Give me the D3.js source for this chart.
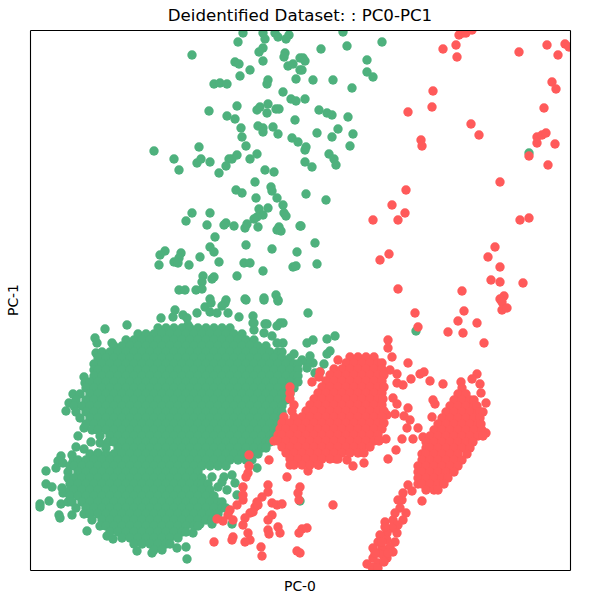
<!DOCTYPE html>
<html>
<head>
<meta charset="utf-8">
<script src="https://cdn.jsdelivr.net/npm/d3@7"></script>
<style>
  html, body { margin: 0; padding: 0; background: #fff; }
  text { font-family: "DejaVu Sans", sans-serif; fill: #000; }
</style>
</head>
<body>
<div id="chart"></div>
<script>
const chartTitle = 'Deidentified Dataset: : PC0-PC1';
const xLabel = 'PC-0';
const yLabel = 'PC-1';
const colors = { green: '#4eb17d', red: '#ff5a5a' };

// Values, PC-1 counted from the top of the frame
const greenSparse = [[213,3],[208,12],[233,3],[235,9],[245,3],[248,7],[259,5],[256,9],[162,25],[233,18],[229,22],[255,23],[254,27],[233,31],[205,32],[209,34],[220,40],[258,36],[263,34],[270,28],[270,40],[210,46],[238,50],[237,54],[266,49],[184,54],[190,53],[197,54],[253,62],[261,69],[266,71],[207,76],[179,81],[227,80],[230,77],[238,74],[246,79],[249,79],[237,83],[197,86],[205,89],[265,90],[211,98],[228,96],[233,98],[233,102],[243,97],[248,104],[262,108],[268,112],[212,107],[216,116],[169,117],[124,121],[144,129],[149,140],[167,133],[171,129],[180,132],[199,129],[202,129],[207,125],[220,129],[227,124],[196,136],[189,143],[235,140],[244,142],[225,152],[206,160],[212,163],[241,157],[242,161],[226,168],[247,168],[253,175],[229,179],[238,178],[233,185],[227,187],[224,189],[254,183],[256,186],[162,183],[180,183],[156,191],[177,195],[194,195],[196,193],[204,196],[217,194],[215,198],[228,197],[249,197],[247,200],[251,201],[270,196],[185,207],[216,215],[180,217],[184,222],[242,219],[267,222],[135,221],[130,225],[151,223],[149,228],[144,232],[148,233],[129,235],[159,235],[170,227],[189,232],[214,233],[220,233],[233,241],[263,237],[266,236],[207,246],[173,246],[172,252],[182,249],[184,247],[149,260],[155,260],[166,260],[172,259],[246,265],[180,269],[196,270],[215,269],[234,268],[248,270],
  [313,2],[291,19],[317,16],[352,12],[337,30],[273,28],[275,31],[272,40],[283,50],[303,50],[337,42],[343,47],[322,58],[275,69],[289,80],[297,83],[302,85],[318,87],[308,99],[287,103],[302,107],[323,104],[320,116],[276,117],[275,120],[299,124],[304,129],[306,135],[275,132],[282,137],[276,164],[296,170],[271,196],[285,213],[287,234],[499,123],
  [278,283],[209,287],[223,286],[198,283],[223,293],[235,294],[237,294],[250,293],[253,293],[247,296],[224,300],[234,303],[242,306],[305,306],[297,309],[283,310],[277,313],[253,313],[247,313],[300,321],[297,324],[280,326],[264,324],[283,333],[294,334],[290,342],[285,343],[277,333],[272,330],[277,338],[386,301],
  [145,280],[175,277],[181,273],[195,273],[192,276],[216,270],[234,270],[248,271],[180,282],[143,287],[131,288],[153,285],[157,288],[167,283],[158,295],[97,295],[75,299],[65,308],[67,313],[82,313],[187,283],[224,293],
  [66,323],[54,347],[55,353],[43,364],[39,373],[36,381],[54,398],[48,406],[61,412],[70,413],[46,417],[54,419],[31,426],[42,425],[68,423],[28,431],[26,438],[16,441],[16,454],[22,457],[19,471],[10,474],[10,477],[29,485],[30,488],[31,474],[42,485],[33,463],[32,458],[38,472],[33,433],[43,432],[57,501],[77,506],[83,509],[107,521],[122,523],[157,529],[156,517],[147,518],[163,503],[168,495],[182,494],[170,494],
  [202,445],[182,447],[194,447],[192,452],[188,457],[205,453],[197,460],[207,465],[227,438],[202,494],[270,471]];

const redSparse = [[413,19],[426,15],[427,27],[429,5],[433,3],[436,3],[442,0],[489,22],[517,15],[535,14],[539,17],[528,25],[522,52],[526,59],[403,61],[402,77],[378,82],[514,78],[441,94],[449,105],[507,107],[512,105],[516,103],[507,113],[525,114],[391,110],[392,116],[499,126],[518,135],[470,152],[376,160],[362,175],[375,183],[368,190],[343,190],[490,190],[499,188],[465,217],[458,227],[470,237],[359,224],[350,230],[368,259],[432,261],[461,250],[470,252],[493,253],[474,266],[470,269],
  [385,283],[434,281],[428,291],[447,293],[418,302],[433,303],[388,297],[454,313],[472,272],[472,280],[477,278],
  [358,310],[358,318],[362,327],[308,330],[290,342],[289,347],[282,352],[378,333],[367,344],[360,340],[390,344],[394,342],[381,349],[400,351],[413,354],[373,355],[367,353],[363,368],[367,374],[378,378],[374,386],[380,390],[377,398],[388,398],[365,384],[357,385],[403,370],[405,374],[402,387],[356,409],[372,409],[383,409],[393,407],[366,420],[358,429],[334,433],[323,436],[317,430],[306,429],[289,435],[278,441],[239,430],
  [219,425],[219,436],[218,443],[216,447],[213,457],[213,465],[213,470],[207,475],[200,480],[198,485],[203,490],[193,491],[187,489],[238,455],[238,462],[232,467],[227,472],[225,477],[220,483],[215,488],[213,495],[223,482],[228,475],[242,473],[247,475],[252,474],[242,485],[238,490],[238,500],[239,504],[248,497],[250,503],[218,503],[220,510],[215,512],[203,507],[202,510],[184,512],[231,517],[232,526],[267,521],[270,523],[270,457],[268,463],[269,470],[257,447],[272,499],[277,498],[269,503],[303,475],
  [447,344],[442,349],[431,352],[450,354],[451,363],[456,373],[453,382],[456,403],[392,471],[378,455],[382,461],
  [373,463],[372,470],[368,470],[370,478],[376,483],[365,483],[373,490],[355,492],[363,490],[368,495],[362,498],[367,503],[357,503],[350,505],[365,512],[357,510],[348,512],[352,518],[360,517],[363,522],[343,518],[348,523],[357,528],[353,525],[343,528],[348,533],[337,534],[342,537],[348,538],[358,523],[345,523],[355,497],[352,512],[354,532]];

// Dense clouds: points sit under each other here, so these are estimated row by row
const greenCoreY = [298,304,310,316,322,328,334,340,346,352,358,364,370,376,382,388,394,400,406,412,418,424,430,436,442,448,454,460,466,472,478,484,490,496,502,508,514,520];
const greenCoreX = [
  [128,136,144,152,160,168,176,184,192,200],
  [108,116,124,132,140,148,156,164,172,180,188,196,204,212],
  [96,104,112,120,128,136,144,152,160,168,176,184,192,200,208,216,224],
  [84,92,100,108,116,124,132,140,148,156,164,172,180,188,196,204,212,220,228,236],
  [72,80,88,96,104,112,120,128,136,144,152,160,168,176,184,192,200,208,216,224,232,240,248,252],
  [68,76,84,92,100,108,116,124,132,140,148,156,164,172,180,188,196,204,212,220,228,236,244,252,260],
  [64,72,80,88,96,104,112,120,128,136,144,152,160,168,176,184,192,200,208,216,224,232,240,248,256,264,268],
  [64,68,76,84,92,100,108,116,124,132,140,148,156,164,172,180,188,196,204,212,220,228,236,244,252,260,268],
  [64,72,80,88,96,104,112,120,128,136,144,152,160,168,176,184,192,200,208,216,224,232,240,248,256,264,268],
  [60,68,76,84,92,100,108,116,124,132,140,148,156,164,172,180,188,196,204,212,220,228,236,244,252,260,268],
  [56,64,72,80,88,96,104,112,120,128,136,144,152,160,168,176,184,192,200,208,216,224,232,240,248,256,264],
  [50,60,68,76,84,92,100,108,116,124,132,140,148,156,164,172,180,188,196,204,212,220,228,236,244,252,260],
  [46,56,64,72,80,88,96,104,112,120,128,136,144,152,160,168,176,184,192,200,208,216,224,232,240,248,256],
  [44,52,60,68,76,84,92,100,108,116,124,132,140,148,156,164,172,180,188,196,204,212,220,228,236,244,252],
  [46,56,64,72,80,88,96,104,112,120,128,136,144,152,160,168,176,184,192,200,208,216,224,232,240,248,252],
  [50,60,68,76,84,92,100,108,116,124,132,140,148,156,164,172,180,188,196,204,212,220,228,236,244,252],
  [56,64,72,80,88,96,104,112,120,128,136,144,152,160,168,176,184,192,200,208,216,224,232,240,248],
  [62,68,76,84,92,100,108,116,124,132,140,148,156,164,172,180,188,196,204,212,220,228,236,244,248],
  [70,80,88,96,104,112,120,128,136,144,152,160,168,176,184,192,200,208,216,224,232,240,244],
  [78,84,92,100,108,116,124,132,140,148,156,164,172,180,188,196,204,212,220,228,236,240],
  [76,88,96,104,112,120,128,136,144,152,160,168,176,184,192,200,208,216,224,232,236],
  [60,68,76,84,92,100,108,116,124,132,140,148,156,164,172,180,188,196,204,212,220,228],
  [44,48,56,64,72,80,88,96,104,112,120,128,136,144,152,160,168,176,184,192,200,208,216,222],
  [40,44,52,60,68,76,84,92,100,108,116,124,132,140,148,156,164,172,180,188,196],
  [38,48,56,64,72,80,88,96,104,112,120,128,136,144,152,160,168],
  [38,44,52,60,68,76,84,92,100,108,116,124,132,140,148,156,164,172],
  [40,48,56,64,72,80,88,96,104,112,120,128,136,144,152,160,168,172,178],
  [40,44,52,60,68,76,84,92,100,108,116,124,132,140,148,156,164,172,180],
  [40,48,56,64,72,80,88,96,104,112,120,128,136,144,152,160,168,176,184],
  [42,52,60,68,76,84,92,100,108,116,124,132,140,148,156,164,172,180,188,192],
  [46,56,64,72,80,88,96,104,112,120,128,136,144,152,160,168,176,184,192,196],
  [54,60,68,76,84,92,100,108,116,124,132,140,148,156,164,172,180,188],
  [62,72,80,88,96,104,112,120,128,136,144,152,160,168,176,182],
  [70,76,84,92,100,108,116,124,132,140,148,156,164,168],
  [80,88,96,104,112,120,128,136,144,152,156],
  [92,100,108,116,124,132,140,148],
  [104,112,120,128,136,140],
  [124,132]
];

const redCoreY = [327,333,339,345,351,357,363,369,375,381,387,393,399,405,411,417,423,429,435];
const redCoreX = [
  [320,328,336,344],
  [316,324,332,340,348,352],
  [304,312,320,328,336,344,352],
  [300,308,316,324,332,340,348,354],
  [296,304,312,320,328,336,344,352],
  [260,292,300,308,316,324,332,340,348,354],
  [260,288,296,304,312,320,328,336,344,352],
  [260,284,292,300,308,316,324,332,340,348,353],
  [264,280,288,296,304,312,320,328,336,344,352],
  [262,276,284,292,300,308,316,324,332,340,348,354],
  [254,264,272,280,288,296,304,312,320,328,336,344,352],
  [252,260,268,276,284,292,300,308,316,324,332,340,348,354],
  [250,256,264,272,280,288,296,304,312,320,328,336,344,352],
  [248,252,260,268,276,284,292,300,308,316,324,332,340,348],
  [244,248,256,264,272,280,288,296,304,312,320,328,336,344,349],
  [252,260,268,276,284,292,300,308,316,324,332,340],
  [256,264,272,280,288,296,304,312,320,328,334],
  [260,268,276,284,292,300,308],
  [260,264,272,280,288]
];

const streakCoreY = [358,364,370,376,382,388,394,400,406,412,418,424,430,436,442,448,454,460];
const streakCoreX = [
  [432],
  [428,436],
  [424,432,440,444],
  [420,428,436,444,447],
  [416,424,432,440,448,450],
  [412,420,428,436,444,450],
  [408,416,424,432,440,448,451],
  [404,412,420,428,436,444,452],
  [400,408,416,424,432,440,448,453],
  [396,404,412,420,428,436,443],
  [396,400,408,416,424,432,440],
  [392,396,404,412,420,428,437],
  [392,400,408,416,424,432],
  [388,396,404,412,420,428],
  [388,392,400,408,416,424],
  [388,396,404,412,418],
  [388,392,400,408,414],
  [396,404,408]
];

const width = 600;
const height = 600;
const frame = { left: 30, right: 570, top: 30, bottom: 570 };

const x = d3.scaleLinear().domain([0, 540]).range([frame.left, frame.right]);
const y = d3.scaleLinear().domain([0, 540]).range([frame.top, frame.bottom]);

function rowsToPoints(ys, xs) {
    return ys.flatMap((v, i) => xs[i].map(d => [d, v]));
}

const greenPoints = greenSparse.concat(rowsToPoints(greenCoreY, greenCoreX));
const redPoints = redSparse.concat(
    rowsToPoints(redCoreY, redCoreX),
    rowsToPoints(streakCoreY, streakCoreX)
);

const svg = d3.select('#chart')
    .append('svg')
    .attr('width', width)
    .attr('height', height)
    .style('display', 'block');

svg.append('defs').append('clipPath')
    .attr('id', 'plot-clip')
    .append('rect')
    .attr('x', frame.left)
    .attr('y', frame.top)
    .attr('width', frame.right - frame.left)
    .attr('height', frame.bottom - frame.top);

const plot = svg.append('g').attr('clip-path', 'url(#plot-clip)');

// Green goes first, red sits on top of it
[[greenPoints, colors.green], [redPoints, colors.red]].forEach(([points, color]) => {
    plot.append('g')
        .selectAll('circle')
        .data(points)
        .join('circle')
        .attr('cx', d => x(d[0]))
        .attr('cy', d => y(d[1]))
        .attr('r', 4.7)
        .attr('fill', color);
});

// Frame, no ticks
const axisTop = d3.axisTop(x).tickValues([]).tickSizeOuter(0);
const axisBottom = d3.axisBottom(x).tickValues([]).tickSizeOuter(0);
const axisLeft = d3.axisLeft(y).tickValues([]).tickSizeOuter(0);
const axisRight = d3.axisRight(y).tickValues([]).tickSizeOuter(0);

svg.append('g').attr('transform', `translate(0,${frame.top})`).call(axisTop);
svg.append('g').attr('transform', `translate(0,${frame.bottom})`).call(axisBottom);
svg.append('g').attr('transform', `translate(${frame.left},0)`).call(axisLeft);
svg.append('g').attr('transform', `translate(${frame.right},0)`).call(axisRight);
svg.selectAll('.domain').attr('stroke', '#000').attr('stroke-width', 1.1);

svg.append('text')
    .attr('x', 300)
    .attr('y', 21)
    .attr('text-anchor', 'middle')
    .style('font-size', '16.67px')
    .text(chartTitle);

svg.append('text')
    .attr('x', 300)
    .attr('y', 591)
    .attr('text-anchor', 'middle')
    .style('font-size', '13.9px')
    .text(xLabel);

svg.append('text')
    .attr('transform', 'translate(18,300) rotate(-90)')
    .attr('text-anchor', 'middle')
    .style('font-size', '13.9px')
    .text(yLabel);
</script>
</body>
</html>
